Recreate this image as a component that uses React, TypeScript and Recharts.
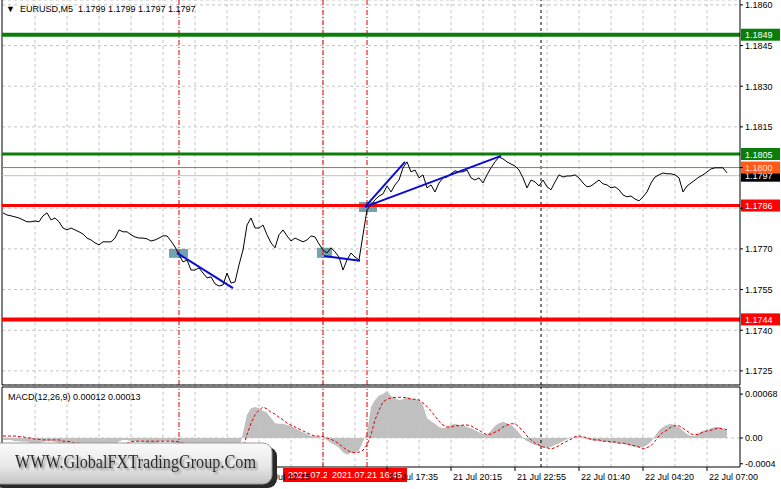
import React from 'react';
import {
  ComposedChart,
  Line,
  Area,
  XAxis,
  YAxis,
  CartesianGrid,
  ReferenceLine,
  ReferenceArea,
} from 'recharts';

// EURUSD M5, one close every 2 bars (bar index = i * 2)
const closes = [
  1.17833, 1.17825, 1.17822, 1.17818, 1.17814, 1.17807, 1.178, 1.178, 1.17803, 1.178,
  1.17822, 1.17833, 1.17807, 1.17814, 1.178, 1.17777, 1.1777, 1.17777, 1.1777, 1.17763,
  1.17755, 1.1774, 1.17733, 1.17722, 1.17715, 1.17726, 1.17726, 1.17726, 1.1774, 1.1777,
  1.17763, 1.17763, 1.17752, 1.17744, 1.1774, 1.1774, 1.17737, 1.17729, 1.17733, 1.1774,
  1.17748, 1.17748, 1.17729, 1.17707, 1.17678, 1.17652, 1.17659, 1.17622, 1.17622, 1.1763,
  1.17611, 1.17593, 1.17597, 1.17571, 1.17563, 1.17567, 1.17611, 1.17574, 1.17578, 1.17641,
  1.17696, 1.17788, 1.17814, 1.17777, 1.17777, 1.17788, 1.17752, 1.17722, 1.17704, 1.17752,
  1.1777, 1.17748, 1.17729, 1.1774, 1.17733, 1.17726, 1.17733, 1.17748, 1.17744, 1.17718,
  1.17696, 1.17685, 1.17704, 1.17689, 1.1767, 1.17622, 1.17659, 1.17685, 1.1767, 1.17659,
  1.17752, 1.17844, 1.17862, 1.17881, 1.17895, 1.17903, 1.17932, 1.1791, 1.17936, 1.17954,
  1.17999, 1.18021, 1.17984, 1.17991, 1.17962, 1.17973, 1.17925, 1.17936, 1.1791, 1.17943,
  1.17962, 1.17965, 1.17977, 1.17988, 1.17984, 1.17984, 1.17991, 1.17962, 1.17954, 1.17962,
  1.17943, 1.17973, 1.17999, 1.18021, 1.18039, 1.18032, 1.18021, 1.18013, 1.18006, 1.17991,
  1.17962, 1.17925, 1.17954, 1.17947, 1.17932, 1.17954, 1.17929, 1.17918, 1.17947, 1.17973,
  1.17965, 1.17969, 1.17969, 1.17973, 1.17962, 1.17943, 1.17929, 1.17932, 1.17943, 1.17954,
  1.1794, 1.17936, 1.17925, 1.17929, 1.17918, 1.17899, 1.17892, 1.17895, 1.17884, 1.17877,
  1.17892, 1.1791, 1.17943, 1.17965, 1.17973, 1.1798, 1.17977, 1.17977, 1.17973, 1.17962,
  1.1791, 1.17932, 1.17943, 1.17954, 1.17965, 1.17973, 1.17984, 1.17995, 1.17999, 1.17999,
  1.17999, 1.1798,
];

const macdHist = [
  -0.00003, -0.00003, -0.00003, -0.00005, -0.00005, -0.00006, -0.00006, -0.00008, -0.00008, -0.00008,
  -0.00006, -0.00005, -0.00005, -0.00006, -0.00008, -0.00011, -0.00012, -0.00014, -0.00014, -0.00014,
  -0.00014, -0.00015, -0.00017, -0.00019, -0.00019, -0.00017, -0.00015, -0.00014, -0.00011, -0.00005,
  -0.00003, -0.00003, -0.00005, -0.00005, -0.00006, -0.00006, -0.00008, -0.00008, -0.00008, -0.00006,
  -0.00005, -0.00005, -0.00006, -0.00009, -0.00014, -0.00019, -0.00022, -0.00026, -0.00029, -0.00032,
  -0.00036, -0.00039, -0.0004, -0.00042, -0.00043, -0.00042, -0.00037, -0.00036, -0.00031, -0.00019,
  0.00008, 0.00036, 0.00046, 0.00048, 0.00046, 0.00042, 0.00039, 0.00031, 0.00023, 0.00022,
  0.00022, 0.0002, 0.00019, 0.00015, 0.00012, 0.00009, 0.00006, 0.00003, 0.00003, 0.00002,
  0, -0.00003, -0.00008, -0.00011, -0.00015, -0.00022, -0.00026, -0.00023, -0.00023, -0.00019,
  -0.00006, 0.00008, 0.00048, 0.00059, 0.00066, 0.00068, 0.00073, 0.00065, 0.00062, 0.00059,
  0.0006, 0.00063, 0.00062, 0.0006, 0.00059, 0.00051, 0.00031, 0.00026, 0.00022, 0.00017,
  0.00015, 0.00017, 0.0002, 0.00022, 0.0002, 0.0002, 0.00017, 0.00015, 0.00012, 0.00009,
  0.00006, 0.00005, 0.00011, 0.00019, 0.00023, 0.00025, 0.00023, 0.0002, 0.00015, 0.00008,
  0, -0.00005, -0.00008, -0.00011, -0.00012, -0.00014, -0.00015, -0.00014, -0.00011, -0.00008,
  -0.00005, -0.00002, 0, 0.00002, 0.00002, 0, -0.00002, -0.00003, -0.00005, -0.00005,
  -0.00006, -0.00006, -0.00008, -0.00008, -0.00009, -0.00009, -0.00011, -0.00012, -0.00014, -0.00015,
  -0.00014, -0.00011, -0.00006, 0.00003, 0.00012, 0.00017, 0.0002, 0.00022, 0.0002, 0.00017,
  0.00011, 0.00006, 0.00003, 0.00003, 0.00008, 0.00011, 0.00012, 0.00015, 0.00017, 0.00017,
  0.00014, 0.00012,
];

const macdSignal = [
  0.00003, 0.00003, 0.00003, 0.00003, 0.00002, 0.00002, 0, 0, -0.00002, -0.00002,
  -0.00003, -0.00003, -0.00003, -0.00003, -0.00003, -0.00005, -0.00005, -0.00006, -0.00008, -0.00008,
  -0.00009, -0.00009, -0.00011, -0.00011, -0.00012, -0.00012, -0.00012, -0.00012, -0.00012, -0.00011,
  -0.00009, -0.00008, -0.00006, -0.00005, -0.00005, -0.00005, -0.00005, -0.00005, -0.00005, -0.00005,
  -0.00005, -0.00005, -0.00005, -0.00005, -0.00006, -0.00008, -0.00009, -0.00012, -0.00014, -0.00017,
  -0.00019, -0.00022, -0.00023, -0.00026, -0.00028, -0.00031, -0.00032, -0.00032, -0.00032, -0.00031,
  -0.00015, 0.00005, 0.00023, 0.00036, 0.00043, 0.00048, 0.00045, 0.0004, 0.00037, 0.00032,
  0.00028, 0.00023, 0.0002, 0.00017, 0.00014, 0.00011, 0.00008, 0.00005, 0.00003, 0.00003,
  0.00002, 0, -0.00002, -0.00005, -0.00009, -0.00014, -0.00019, -0.00022, -0.00023, -0.00022,
  -0.00019, -0.00011, 0.00005, 0.00028, 0.00043, 0.00056, 0.0006, 0.00062, 0.00063, 0.00063,
  0.00063, 0.00062, 0.0006, 0.0006, 0.00059, 0.00054, 0.00049, 0.00042, 0.00034, 0.00026,
  0.0002, 0.00017, 0.00017, 0.00019, 0.00019, 0.0002, 0.0002, 0.00019, 0.00015, 0.00012,
  0.00008, 0.00005, 0.00006, 0.00009, 0.00012, 0.00017, 0.0002, 0.00022, 0.00022, 0.00017,
  0.00011, 0.00003, -0.00003, -0.00008, -0.00011, -0.00014, -0.00015, -0.00017, -0.00015, -0.00012,
  -0.00008, -0.00005, -0.00002, 0.00002, 0.00003, 0.00002, 0, -0.00002, -0.00003, -0.00003,
  -0.00005, -0.00005, -0.00006, -0.00006, -0.00008, -0.00008, -0.00009, -0.00011, -0.00012, -0.00014,
  -0.00017, -0.00015, -0.00012, -0.00005, 0.00003, 0.00009, 0.00012, 0.00017, 0.00019, 0.00019,
  0.00015, 0.00011, 0.00006, 0.00005, 0.00006, 0.00009, 0.00011, 0.00012, 0.00014, 0.00015,
  0.00014, 0.00013,
];

const priceTicks = [1.1725, 1.174, 1.1755, 1.177, 1.1785, 1.18, 1.1815, 1.183, 1.1845, 1.186];
// tick labels that sit under the coloured price tags
const coveredPriceTicks = [1.1785, 1.18];
const macdTicks = [-0.0004, 0, 0.00068];
const macdTickText = ['-0.0004', '0.00', '0.00068'];

// only the time labels that are not hidden by the watermark / time tags
const timeTickBars = [128, 192, 224, 256, 288, 320, 352];
const timeTickLabels = ['21 Jul 12:15', '21 Jul 17:35', '21 Jul 20:15', '21 Jul 22:55', '22 Jul 01:40', '22 Jul 04:20', '22 Jul 07:00'];
const gridBars = [16, 32, 48, 64, 80, 96, 112, 128, 144, 160, 176, 192, 208, 224, 240, 256, 272, 288, 304, 320, 336, 352];

// horizontal levels
const resistLevels = [1.1849, 1.1805];
const supportLevels = [1.1786, 1.1744];
const askPrice = 1.18;
const bidPrice = 1.1797;

// vertical signal lines and their time tags (the first tag is hidden by the watermark)
const signalBars = [88, 160, 182];
const signalTimes = ['', '2021.07.21 14:55', '2021.07.21 16:45'];
const dayBreakBar = 269;

// drawn trend lines [bar, price] -> [bar, price]
const trendLines = [
  [[87, 1.17685], [115, 1.17555]],
  [[160.5, 1.17674], [178.5, 1.17656]],
  [[181, 1.17855], [201, 1.18021]],
  [[181, 1.17855], [249, 1.18043]],
];
// entry boxes [bar1, bar2, price1, price2]
const entryBoxes = [
  [83, 92.5, 1.17667, 1.177],
  [157, 164.5, 1.17667, 1.17704],
  [178, 187, 1.17836, 1.17873],
];

const priceData = closes.map((c, i) => ({ bar: i * 2, close: c }));
const macdData = macdHist.map((h, i) => ({ bar: i * 2, hist: h, signal: macdSignal[i] }));

const FONT = '"Liberation Sans", Arial, sans-serif';
const X_DOMAIN = [-0.5, 368.5];
const P_DOMAIN = [1.17198, 1.18618];
const M_DOMAIN = [-0.00045, 0.00079];

const GRID = '#c4c4c4';
const SIGNAL_RED = '#e00000';

const PriceTag = (props: any) => {
  const { viewBox, text, bg, fg } = props;
  if (!viewBox) return null;
  const x = viewBox.x + viewBox.width;
  const y = viewBox.y;
  return (
    <g>
      <rect x={x + 1} y={y - 6} width={39} height={12} fill={bg} />
      <text x={x + 5} y={y + 3.5} fontSize={9} fontFamily={FONT} fill={fg}>
        {text}
      </text>
    </g>
  );
};

const TimeTag = (props: any) => {
  const { viewBox, text } = props;
  if (!viewBox || !text) return null;
  const cx = viewBox.x;
  const top = viewBox.y + viewBox.height + 1;
  return (
    <g>
      <rect x={cx - 40} y={top} width={80} height={14} fill="#ff0000" />
      <text x={cx} y={top + 10} textAnchor="middle" fontSize={9} fontFamily={FONT} fill="#fff">
        {text}
      </text>
    </g>
  );
};

const TimeTick = (props: any) => {
  const { x, y, payload } = props;
  const label = timeTickLabels[timeTickBars.indexOf(payload.value)];
  return (
    <text x={x + 2} y={y + 7} fontSize={9} fontFamily={FONT} fill="#000" textAnchor="start">
      {label}
    </text>
  );
};

const PriceTick = (props: any) => {
  const { x, y, payload } = props;
  if (coveredPriceTicks.includes(payload.value)) return null;
  return (
    <text x={x} y={y + 3.5} fontSize={9} fontFamily={FONT} fill="#000" textAnchor="start">
      {payload.value.toFixed(4)}
    </text>
  );
};

function PriceChart() {
  return (
    <ComposedChart width={781} height={386} data={priceData} margin={{ top: 0, right: 0, left: 2, bottom: 0 }}>
      <CartesianGrid vertical={false} stroke={GRID} strokeDasharray="3 3" />
      {gridBars.map((b) => (
        <ReferenceLine key={'g' + b} x={b} stroke={GRID} strokeDasharray="3 3" />
      ))}
      <XAxis
        dataKey="bar"
        type="number"
        domain={X_DOMAIN}
        allowDataOverflow
        height={1}
        tick={false}
        tickLine={false}
        axisLine={{ stroke: '#000' }}
      />
      <YAxis
        orientation="right"
        width={41}
        domain={P_DOMAIN}
        allowDataOverflow
        ticks={priceTicks}
        interval={0}
        tickSize={3}
        tick={<PriceTick />}
        axisLine={{ stroke: '#000' }}
        tickLine={{ stroke: '#000' }}
      />
      <ReferenceLine x={X_DOMAIN[0]} stroke="#000" />
      {signalBars.map((b) => (
        <ReferenceLine key={'s' + b} x={b} stroke={SIGNAL_RED} strokeDasharray="5 2 1 2" />
      ))}
      <ReferenceLine x={dayBreakBar} stroke="#000" strokeDasharray="3 3" />
      <ReferenceLine
        y={bidPrice}
        stroke="#c0c0c0"
        label={<PriceTag text={bidPrice.toFixed(4)} bg="#000" fg="#fff" />}
      />
      <ReferenceLine
        y={askPrice}
        stroke="#e0641e"
        label={<PriceTag text={askPrice.toFixed(4)} bg="#ff5a1a" fg="#ffe0d0" />}
      />
      {resistLevels.map((p, i) => (
        <ReferenceLine
          key={'r' + p}
          y={p}
          stroke="#0a7d0a"
          strokeWidth={i === 0 ? 4 : 3}
          label={<PriceTag text={p.toFixed(4)} bg="#0a7d0a" fg="#fff" />}
        />
      ))}
      {supportLevels.map((p, i) => (
        <ReferenceLine
          key={'sp' + p}
          y={p}
          stroke="#ff0000"
          strokeWidth={i === 0 ? 3 : 4}
          label={<PriceTag text={p.toFixed(4)} bg="#ff0000" fg="#fff" />}
        />
      ))}
      <Line
        dataKey="close"
        type="linear"
        stroke="#000"
        strokeWidth={1}
        dot={false}
        isAnimationActive={false}
      />
      {entryBoxes.map((b, i) => (
        <ReferenceArea
          key={'e' + i}
          x1={b[0]}
          x2={b[1]}
          y1={b[2]}
          y2={b[3]}
          fill="#4e8c9c"
          fillOpacity={0.8}
          stroke="none"
        />
      ))}
      {trendLines.map((seg, i) => (
        <ReferenceLine
          key={'t' + i}
          segment={[
            { x: seg[0][0], y: seg[0][1] },
            { x: seg[1][0], y: seg[1][1] },
          ]}
          stroke="#0a0ad2"
          strokeWidth={2}
          ifOverflow="visible"
        />
      ))}
    </ComposedChart>
  );
}

function MacdChart() {
  return (
    <ComposedChart width={781} height={102} data={macdData} margin={{ top: 0, right: 0, left: 2, bottom: 0 }}>
      {gridBars.map((b) => (
        <ReferenceLine key={'g' + b} x={b} stroke={GRID} strokeDasharray="3 3" />
      ))}
      <ReferenceLine y={0} stroke={GRID} strokeDasharray="3 3" />
      <XAxis
        xAxisId="top"
        orientation="top"
        dataKey="bar"
        type="number"
        domain={X_DOMAIN}
        allowDataOverflow
        height={1}
        tick={false}
        tickLine={false}
        axisLine={{ stroke: '#000' }}
      />
      <XAxis
        dataKey="bar"
        type="number"
        domain={X_DOMAIN}
        allowDataOverflow
        height={21}
        ticks={timeTickBars}
        interval={0}
        tickSize={4}
        tick={<TimeTick />}
        axisLine={{ stroke: '#000' }}
        tickLine={{ stroke: '#000' }}
      />
      <YAxis
        orientation="right"
        width={41}
        domain={M_DOMAIN}
        allowDataOverflow
        ticks={macdTicks}
        interval={0}
        tickFormatter={(v: number) => macdTickText[macdTicks.indexOf(v)]}
        tickSize={3}
        tick={{ fontSize: 9, fill: '#000', fontFamily: FONT }}
        axisLine={{ stroke: '#000' }}
        tickLine={{ stroke: '#000' }}
      />
      <ReferenceLine x={X_DOMAIN[0]} stroke="#000" />
      <Area
        dataKey="hist"
        type="linear"
        baseValue={0}
        fill="#c0c0c0"
        fillOpacity={1}
        stroke="none"
        isAnimationActive={false}
      />
      <Line
        dataKey="signal"
        type="linear"
        stroke="#e00000"
        strokeWidth={1}
        strokeDasharray="3 2"
        dot={false}
        isAnimationActive={false}
      />
      <ReferenceLine x={dayBreakBar} stroke="#000" strokeDasharray="3 3" />
      {signalBars.map((b, i) => (
        <ReferenceLine
          key={'s' + b}
          x={b}
          stroke={SIGNAL_RED}
          strokeDasharray="5 2 1 2"
          label={<TimeTag text={signalTimes[i]} />}
        />
      ))}
    </ComposedChart>
  );
}

export default function App() {
  return (
    <div style={{ position: 'absolute', left: 0, top: 0, width: 781, height: 489, background: '#fff', overflow: 'hidden' }}>
      <div style={{ position: 'absolute', left: 0, top: 0 }}>
        <PriceChart />
      </div>
      <div style={{ position: 'absolute', left: 0, top: 386 }}>
        <MacdChart />
      </div>
      <div style={{ position: 'absolute', left: 6, top: 4, fontFamily: FONT, fontSize: 9, color: '#000', whiteSpace: 'pre' }}>
        {'\u25BC  EURUSD,M5  1.1799 1.1799 1.1797 1.1797'}
      </div>
      <div style={{ position: 'absolute', left: 8, top: 392, fontFamily: FONT, fontSize: 9, color: '#000', whiteSpace: 'pre' }}>
        {'MACD(12,26,9) 0.00012 0.00013'}
      </div>
      <svg style={{ position: 'absolute', left: 0, top: 440 }} width={282} height={49}>
        <defs>
          <linearGradient id="wmbg" x1="0" y1="0" x2="0" y2="1">
            <stop offset="0" stopColor="#fbfbfb" />
            <stop offset="0.6" stopColor="#e6e6e6" />
            <stop offset="1" stopColor="#c4c4c4" />
          </linearGradient>
          <filter id="wmshadow" x="-5%" y="-30%" width="110%" height="160%">
            <feDropShadow dx="2" dy="2" stdDeviation="0.8" floodColor="#8a8a8a" />
          </filter>
        </defs>
        <rect x={-6} y={7} width={283} height={41} rx={9} fill="#2a2a2a" />
        <rect x={-10} y={3} width={282} height={41} rx={9} fill="url(#wmbg)" stroke="#9a9a9a" />
        <text
          x={15}
          y={28}
          fontFamily='"Liberation Serif", serif'
          fontSize={18}
          fill="#262626"
          textLength={241}
          lengthAdjust="spacingAndGlyphs"
          filter="url(#wmshadow)"
        >
          WWW.GlobalFXTradingGroup.Com
        </text>
      </svg>
    </div>
  );
}
